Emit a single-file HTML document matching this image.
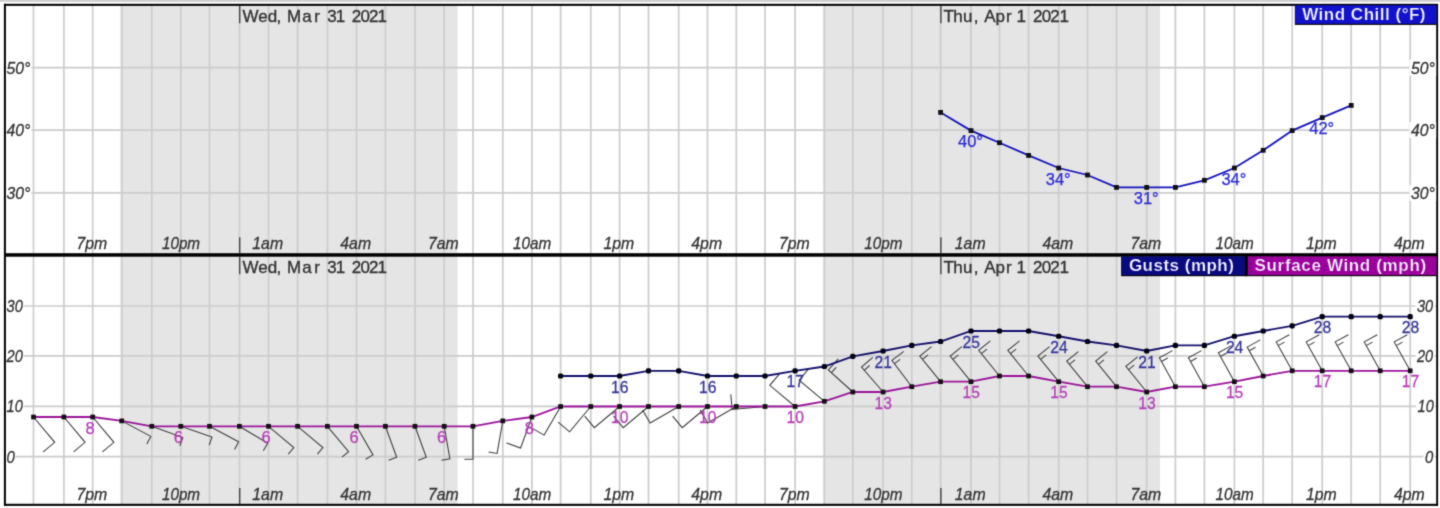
<!DOCTYPE html>
<html><head><meta charset="utf-8"><title>Hourly Weather Graph</title>
<style>html,body{margin:0;padding:0;background:#fff;}body{width:1440px;height:508px;overflow:hidden;font-family:"Liberation Sans",sans-serif;}</style></head>
<body>
<svg width="1440" height="508" viewBox="0 0 1440 508" style="display:block;font-family:'Liberation Sans',sans-serif">
<defs><filter id="bl" x="-10" y="-10" width="1460" height="528" filterUnits="userSpaceOnUse" color-interpolation-filters="sRGB"><feConvolveMatrix order="3" kernelMatrix="0.02250 0.10500 0.02250 0.10500 0.49000 0.10500 0.02250 0.10500 0.02250" divisor="1" edgeMode="duplicate" preserveAlpha="true"/></filter></defs>
<g filter="url(#bl)">
<rect x="-5" y="-5" width="1450" height="518" fill="#ffffff"/>
<rect x="-5" y="-5" width="1450" height="6.8" fill="#cccccc"/>
<rect x="120.6" y="5" width="337.0" height="500" fill="#e5e5e5"/>
<rect x="823.4" y="5" width="336.6" height="500" fill="#e5e5e5"/>
<g stroke="#cccccc" stroke-width="1.7">
<line x1="33.50" y1="5" x2="33.50" y2="505"/>
<line x1="63.90" y1="5" x2="63.90" y2="505"/>
<line x1="92.70" y1="5" x2="92.70" y2="505"/>
<line x1="121.70" y1="5" x2="121.70" y2="505"/>
<line x1="151.80" y1="5" x2="151.80" y2="505"/>
<line x1="180.80" y1="5" x2="180.80" y2="505"/>
<line x1="209.50" y1="5" x2="209.50" y2="505"/>
<line x1="239.40" y1="5" x2="239.40" y2="505"/>
<line x1="268.50" y1="5" x2="268.50" y2="505"/>
<line x1="297.60" y1="5" x2="297.60" y2="505"/>
<line x1="327.40" y1="5" x2="327.40" y2="505"/>
<line x1="356.50" y1="5" x2="356.50" y2="505"/>
<line x1="385.40" y1="5" x2="385.40" y2="505"/>
<line x1="415.00" y1="5" x2="415.00" y2="505"/>
<line x1="444.20" y1="5" x2="444.20" y2="505"/>
<line x1="473.00" y1="5" x2="473.00" y2="505"/>
<line x1="502.80" y1="5" x2="502.80" y2="505"/>
<line x1="531.90" y1="5" x2="531.90" y2="505"/>
<line x1="560.60" y1="5" x2="560.60" y2="505"/>
<line x1="590.80" y1="5" x2="590.80" y2="505"/>
<line x1="619.60" y1="5" x2="619.60" y2="505"/>
<line x1="648.50" y1="5" x2="648.50" y2="505"/>
<line x1="678.70" y1="5" x2="678.70" y2="505"/>
<line x1="707.50" y1="5" x2="707.50" y2="505"/>
<line x1="736.30" y1="5" x2="736.30" y2="505"/>
<line x1="765.00" y1="5" x2="765.00" y2="505"/>
<line x1="795.10" y1="5" x2="795.10" y2="505"/>
<line x1="824.40" y1="5" x2="824.40" y2="505"/>
<line x1="852.80" y1="5" x2="852.80" y2="505"/>
<line x1="883.10" y1="5" x2="883.10" y2="505"/>
<line x1="911.80" y1="5" x2="911.80" y2="505"/>
<line x1="940.60" y1="5" x2="940.60" y2="505"/>
<line x1="971.00" y1="5" x2="971.00" y2="505"/>
<line x1="999.50" y1="5" x2="999.50" y2="505"/>
<line x1="1028.60" y1="5" x2="1028.60" y2="505"/>
<line x1="1058.70" y1="5" x2="1058.70" y2="505"/>
<line x1="1087.50" y1="5" x2="1087.50" y2="505"/>
<line x1="1116.50" y1="5" x2="1116.50" y2="505"/>
<line x1="1146.70" y1="5" x2="1146.70" y2="505"/>
<line x1="1175.40" y1="5" x2="1175.40" y2="505"/>
<line x1="1204.40" y1="5" x2="1204.40" y2="505"/>
<line x1="1234.40" y1="5" x2="1234.40" y2="505"/>
<line x1="1263.20" y1="5" x2="1263.20" y2="505"/>
<line x1="1292.20" y1="5" x2="1292.20" y2="505"/>
<line x1="1322.20" y1="5" x2="1322.20" y2="505"/>
<line x1="1351.20" y1="5" x2="1351.20" y2="505"/>
<line x1="1380.20" y1="5" x2="1380.20" y2="505"/>
<line x1="1410.20" y1="5" x2="1410.20" y2="505"/>
<line x1="5" y1="67.7" x2="1437" y2="67.7"/>
<line x1="5" y1="130.1" x2="1437" y2="130.1"/>
<line x1="5" y1="192.9" x2="1437" y2="192.9"/>
<line x1="5" y1="306.0" x2="1437" y2="306.0"/>
<line x1="5" y1="355.8" x2="1437" y2="355.8"/>
<line x1="5" y1="406.3" x2="1437" y2="406.3"/>
<line x1="5" y1="456.7" x2="1437" y2="456.7"/>
</g>
<g fill="#000000">
<rect x="4" y="3.8" width="1434" height="2.05"/>
<rect x="4" y="503.8" width="1434" height="2.05"/>
<rect x="3.9" y="3.8" width="2.0" height="502"/>
<rect x="1436.2" y="4" width="1.9" height="502"/>
<rect x="4" y="253.2" width="1434" height="3.5"/>
</g>
<g stroke="#444444" stroke-width="1.4">
<line x1="239.70" y1="6" x2="239.70" y2="23.3"/>
<line x1="239.70" y1="237.3" x2="239.70" y2="253.2"/>
<line x1="239.70" y1="256.7" x2="239.70" y2="274.3"/>
<line x1="239.70" y1="488" x2="239.70" y2="504"/>
<line x1="940.90" y1="6" x2="940.90" y2="23.3"/>
<line x1="940.90" y1="237.3" x2="940.90" y2="253.2"/>
<line x1="940.90" y1="256.7" x2="940.90" y2="274.3"/>
<line x1="940.90" y1="488" x2="940.90" y2="504"/>
</g>
<text x="242.6 258.2 267.7 276.5 287.1 302.2 314.3 327.3 335.8 351.7 360.5 369.1 377.5" y="21.9" font-size="17" fill="#333333" stroke="#333333" stroke-width="0.35">Wed,Mar312021</text>
<text x="242.6 258.2 267.7 276.5 287.1 302.2 314.3 327.3 335.8 351.7 360.5 369.1 377.5" y="273.3" font-size="17" fill="#333333" stroke="#333333" stroke-width="0.35">Wed,Mar312021</text>
<text x="943.5 953.2 963.0 973.7 984.2 995.6 1006.0 1016.4 1033.0 1041.8 1050.3 1059.5" y="21.9" font-size="17" fill="#333333" stroke="#333333" stroke-width="0.35">Thu,Apr12021</text>
<text x="943.5 953.2 963.0 973.7 984.2 995.6 1006.0 1016.4 1033.0 1041.8 1050.3 1059.5" y="273.3" font-size="17" fill="#333333" stroke="#333333" stroke-width="0.35">Thu,Apr12021</text>
<text x="76.50" y="249.3" font-size="17" font-style="italic" fill="#333333" stroke="#333333" stroke-width="0.3" textLength="30.8" lengthAdjust="spacingAndGlyphs">7pm</text>
<text x="76.50" y="500.3" font-size="17" font-style="italic" fill="#333333" stroke="#333333" stroke-width="0.3" textLength="30.8" lengthAdjust="spacingAndGlyphs">7pm</text>
<text x="161.90" y="249.3" font-size="17" font-style="italic" fill="#333333" stroke="#333333" stroke-width="0.3" textLength="38.2" lengthAdjust="spacingAndGlyphs">10pm</text>
<text x="161.90" y="500.3" font-size="17" font-style="italic" fill="#333333" stroke="#333333" stroke-width="0.3" textLength="38.2" lengthAdjust="spacingAndGlyphs">10pm</text>
<text x="252.30" y="249.3" font-size="17" font-style="italic" fill="#333333" stroke="#333333" stroke-width="0.3" textLength="30.8" lengthAdjust="spacingAndGlyphs">1am</text>
<text x="252.30" y="500.3" font-size="17" font-style="italic" fill="#333333" stroke="#333333" stroke-width="0.3" textLength="30.8" lengthAdjust="spacingAndGlyphs">1am</text>
<text x="340.30" y="249.3" font-size="17" font-style="italic" fill="#333333" stroke="#333333" stroke-width="0.3" textLength="30.8" lengthAdjust="spacingAndGlyphs">4am</text>
<text x="340.30" y="500.3" font-size="17" font-style="italic" fill="#333333" stroke="#333333" stroke-width="0.3" textLength="30.8" lengthAdjust="spacingAndGlyphs">4am</text>
<text x="428.00" y="249.3" font-size="17" font-style="italic" fill="#333333" stroke="#333333" stroke-width="0.3" textLength="30.8" lengthAdjust="spacingAndGlyphs">7am</text>
<text x="428.00" y="500.3" font-size="17" font-style="italic" fill="#333333" stroke="#333333" stroke-width="0.3" textLength="30.8" lengthAdjust="spacingAndGlyphs">7am</text>
<text x="513.00" y="249.3" font-size="17" font-style="italic" fill="#333333" stroke="#333333" stroke-width="0.3" textLength="38.2" lengthAdjust="spacingAndGlyphs">10am</text>
<text x="513.00" y="500.3" font-size="17" font-style="italic" fill="#333333" stroke="#333333" stroke-width="0.3" textLength="38.2" lengthAdjust="spacingAndGlyphs">10am</text>
<text x="603.40" y="249.3" font-size="17" font-style="italic" fill="#333333" stroke="#333333" stroke-width="0.3" textLength="30.8" lengthAdjust="spacingAndGlyphs">1pm</text>
<text x="603.40" y="500.3" font-size="17" font-style="italic" fill="#333333" stroke="#333333" stroke-width="0.3" textLength="30.8" lengthAdjust="spacingAndGlyphs">1pm</text>
<text x="691.30" y="249.3" font-size="17" font-style="italic" fill="#333333" stroke="#333333" stroke-width="0.3" textLength="30.8" lengthAdjust="spacingAndGlyphs">4pm</text>
<text x="691.30" y="500.3" font-size="17" font-style="italic" fill="#333333" stroke="#333333" stroke-width="0.3" textLength="30.8" lengthAdjust="spacingAndGlyphs">4pm</text>
<text x="778.90" y="249.3" font-size="17" font-style="italic" fill="#333333" stroke="#333333" stroke-width="0.3" textLength="30.8" lengthAdjust="spacingAndGlyphs">7pm</text>
<text x="778.90" y="500.3" font-size="17" font-style="italic" fill="#333333" stroke="#333333" stroke-width="0.3" textLength="30.8" lengthAdjust="spacingAndGlyphs">7pm</text>
<text x="864.20" y="249.3" font-size="17" font-style="italic" fill="#333333" stroke="#333333" stroke-width="0.3" textLength="38.2" lengthAdjust="spacingAndGlyphs">10pm</text>
<text x="864.20" y="500.3" font-size="17" font-style="italic" fill="#333333" stroke="#333333" stroke-width="0.3" textLength="38.2" lengthAdjust="spacingAndGlyphs">10pm</text>
<text x="954.80" y="249.3" font-size="17" font-style="italic" fill="#333333" stroke="#333333" stroke-width="0.3" textLength="30.8" lengthAdjust="spacingAndGlyphs">1am</text>
<text x="954.80" y="500.3" font-size="17" font-style="italic" fill="#333333" stroke="#333333" stroke-width="0.3" textLength="30.8" lengthAdjust="spacingAndGlyphs">1am</text>
<text x="1042.50" y="249.3" font-size="17" font-style="italic" fill="#333333" stroke="#333333" stroke-width="0.3" textLength="30.8" lengthAdjust="spacingAndGlyphs">4am</text>
<text x="1042.50" y="500.3" font-size="17" font-style="italic" fill="#333333" stroke="#333333" stroke-width="0.3" textLength="30.8" lengthAdjust="spacingAndGlyphs">4am</text>
<text x="1130.50" y="249.3" font-size="17" font-style="italic" fill="#333333" stroke="#333333" stroke-width="0.3" textLength="30.8" lengthAdjust="spacingAndGlyphs">7am</text>
<text x="1130.50" y="500.3" font-size="17" font-style="italic" fill="#333333" stroke="#333333" stroke-width="0.3" textLength="30.8" lengthAdjust="spacingAndGlyphs">7am</text>
<text x="1215.50" y="249.3" font-size="17" font-style="italic" fill="#333333" stroke="#333333" stroke-width="0.3" textLength="38.2" lengthAdjust="spacingAndGlyphs">10am</text>
<text x="1215.50" y="500.3" font-size="17" font-style="italic" fill="#333333" stroke="#333333" stroke-width="0.3" textLength="38.2" lengthAdjust="spacingAndGlyphs">10am</text>
<text x="1306.00" y="249.3" font-size="17" font-style="italic" fill="#333333" stroke="#333333" stroke-width="0.3" textLength="30.8" lengthAdjust="spacingAndGlyphs">1pm</text>
<text x="1306.00" y="500.3" font-size="17" font-style="italic" fill="#333333" stroke="#333333" stroke-width="0.3" textLength="30.8" lengthAdjust="spacingAndGlyphs">1pm</text>
<text x="1394.00" y="249.3" font-size="17" font-style="italic" fill="#333333" stroke="#333333" stroke-width="0.3" textLength="30.8" lengthAdjust="spacingAndGlyphs">4pm</text>
<text x="1394.00" y="500.3" font-size="17" font-style="italic" fill="#333333" stroke="#333333" stroke-width="0.3" textLength="30.8" lengthAdjust="spacingAndGlyphs">4pm</text>
<rect x="6" y="59.7" width="25.3" height="16" fill="#ffffff"/>
<text x="6.6" y="73.5" font-size="17" font-style="italic" fill="#333333" stroke="#333333" stroke-width="0.3" textLength="23.8" lengthAdjust="spacingAndGlyphs">50°</text>
<rect x="1409.5" y="59.7" width="26.7" height="16" fill="#ffffff"/>
<text x="1411.0" y="73.5" font-size="17" font-style="italic" fill="#333333" stroke="#333333" stroke-width="0.3" textLength="23.8" lengthAdjust="spacingAndGlyphs">50°</text>
<rect x="6" y="122.1" width="25.3" height="16" fill="#ffffff"/>
<text x="6.6" y="135.9" font-size="17" font-style="italic" fill="#333333" stroke="#333333" stroke-width="0.3" textLength="23.8" lengthAdjust="spacingAndGlyphs">40°</text>
<rect x="1409.5" y="122.1" width="26.7" height="16" fill="#ffffff"/>
<text x="1411.0" y="135.9" font-size="17" font-style="italic" fill="#333333" stroke="#333333" stroke-width="0.3" textLength="23.8" lengthAdjust="spacingAndGlyphs">40°</text>
<rect x="6" y="184.9" width="25.3" height="16" fill="#ffffff"/>
<text x="6.6" y="198.7" font-size="17" font-style="italic" fill="#333333" stroke="#333333" stroke-width="0.3" textLength="23.8" lengthAdjust="spacingAndGlyphs">30°</text>
<rect x="1409.5" y="184.9" width="26.7" height="16" fill="#ffffff"/>
<text x="1411.0" y="198.7" font-size="17" font-style="italic" fill="#333333" stroke="#333333" stroke-width="0.3" textLength="23.8" lengthAdjust="spacingAndGlyphs">30°</text>
<rect x="6" y="298.0" width="17.7" height="16" fill="#ffffff"/>
<text x="6.6" y="311.8" font-size="17" font-style="italic" fill="#333333" stroke="#333333" stroke-width="0.3" textLength="16.2" lengthAdjust="spacingAndGlyphs">30</text>
<rect x="1415.5" y="298.0" width="19.099999999999998" height="16" fill="#ffffff"/>
<text x="1417.0" y="311.8" font-size="17" font-style="italic" fill="#333333" stroke="#333333" stroke-width="0.3" textLength="16.2" lengthAdjust="spacingAndGlyphs">30</text>
<rect x="6" y="347.8" width="17.7" height="16" fill="#ffffff"/>
<text x="6.6" y="361.6" font-size="17" font-style="italic" fill="#333333" stroke="#333333" stroke-width="0.3" textLength="16.2" lengthAdjust="spacingAndGlyphs">20</text>
<rect x="1415.5" y="347.8" width="19.099999999999998" height="16" fill="#ffffff"/>
<text x="1417.0" y="361.6" font-size="17" font-style="italic" fill="#333333" stroke="#333333" stroke-width="0.3" textLength="16.2" lengthAdjust="spacingAndGlyphs">20</text>
<rect x="6" y="398.3" width="17.7" height="16" fill="#ffffff"/>
<text x="6.6" y="412.1" font-size="17" font-style="italic" fill="#333333" stroke="#333333" stroke-width="0.3" textLength="16.2" lengthAdjust="spacingAndGlyphs">10</text>
<rect x="1416.1" y="398.3" width="19.099999999999998" height="16" fill="#ffffff"/>
<text x="1417.6" y="412.1" font-size="17" font-style="italic" fill="#333333" stroke="#333333" stroke-width="0.3" textLength="16.2" lengthAdjust="spacingAndGlyphs">10</text>
<rect x="6" y="448.7" width="9.8" height="16" fill="#ffffff"/>
<text x="6.6" y="462.5" font-size="17" font-style="italic" fill="#333333" stroke="#333333" stroke-width="0.3" textLength="8.3" lengthAdjust="spacingAndGlyphs">0</text>
<rect x="1423.4" y="448.7" width="11.200000000000001" height="16" fill="#ffffff"/>
<text x="1424.9" y="462.5" font-size="17" font-style="italic" fill="#333333" stroke="#333333" stroke-width="0.3" textLength="8.3" lengthAdjust="spacingAndGlyphs">0</text>
<g stroke="#3c3c3c" stroke-width="1.05" fill="none" stroke-linecap="butt">
<path d="M33.5 417.0L54.7 442.3L43.2 451.9"/>
<path d="M63.9 417.0L85.1 442.3L73.6 451.9"/>
<path d="M92.7 417.0L113.9 442.3L102.4 451.9"/>
<path d="M121.7 420.9L150.8 436.4L146.8 444.0"/>
<path d="M151.8 426.3L182.8 437.6L179.9 445.7"/>
<path d="M180.8 426.3L212.0 437.0L209.2 445.2"/>
<path d="M209.5 426.3L238.6 441.8L234.6 449.4"/>
<path d="M239.4 426.3L267.7 443.3L263.3 450.7"/>
<path d="M268.5 426.3L293.8 447.5L288.3 454.1"/>
<path d="M297.6 426.3L322.9 447.5L317.4 454.1"/>
<path d="M327.4 426.3L348.6 451.6L342.0 457.1"/>
<path d="M356.5 426.3L373.0 454.9L365.6 459.2"/>
<path d="M385.4 426.3L396.7 457.3L388.6 460.3"/>
<path d="M415.0 426.3L426.3 457.3L418.2 460.3"/>
<path d="M444.2 426.3L449.9 458.8L441.5 460.3"/>
<path d="M473.0 426.3L473.0 459.3L464.4 459.3"/>
<path d="M502.8 420.9L497.1 453.4L488.6 451.9"/>
<path d="M531.9 417.0L520.6 448.0L506.5 442.9"/>
<path d="M560.6 406.5L544.1 435.1L531.1 427.6"/>
<path d="M590.8 406.5L569.6 431.8L558.1 422.1"/>
<path d="M619.6 406.5L594.3 427.7L584.7 416.2"/>
<path d="M648.5 406.5L623.2 427.7L613.6 416.2"/>
<path d="M678.7 406.5L650.1 423.0L642.6 410.0"/>
<path d="M707.5 406.5L682.2 427.7L672.6 416.2"/>
<path d="M736.3 406.5L707.7 423.0L700.2 410.0"/>
<path d="M765.0 406.5L732.1 409.4L730.8 394.4"/>
<path d="M795.1 406.5L769.8 385.3L779.5 373.8"/>
<path d="M824.4 401.3L799.1 380.1L808.8 368.6"/>
<path d="M852.8 392.0L828.3 369.9L838.3 358.8M831.4 372.7L836.2 367.4"/>
<path d="M883.1 392.0L861.5 367.1L872.8 357.3M864.2 370.3L869.6 365.5"/>
<path d="M911.8 386.7L891.9 360.3L903.9 351.3M894.5 363.7L900.2 359.4"/>
<path d="M940.6 381.7L919.8 356.1L931.5 346.6M922.5 359.3L928.1 354.8"/>
<path d="M971.0 381.7L950.2 356.1L961.9 346.6M952.9 359.3L958.5 354.8"/>
<path d="M999.5 376.0L978.7 350.4L990.4 340.9M981.4 353.6L987.0 349.1"/>
<path d="M1028.6 376.0L1007.8 350.4L1019.5 340.9M1010.5 353.6L1016.1 349.1"/>
<path d="M1058.7 381.7L1037.9 356.1L1049.6 346.6M1040.6 359.3L1046.2 354.8"/>
<path d="M1087.5 386.7L1066.7 361.1L1078.4 351.6M1069.4 364.3L1075.0 359.8"/>
<path d="M1116.5 386.7L1095.7 361.1L1107.4 351.6M1098.4 364.3L1104.0 359.8"/>
<path d="M1146.7 392.0L1125.9 366.4L1137.6 356.9M1128.6 369.6L1134.2 365.1"/>
<path d="M1175.4 386.7L1159.4 357.8L1172.5 350.6M1161.4 361.5L1167.7 358.0"/>
<path d="M1204.4 386.7L1188.4 357.8L1201.5 350.6M1190.4 361.5L1196.7 358.0"/>
<path d="M1234.4 381.7L1218.4 352.8L1231.5 345.6M1220.4 356.5L1226.7 353.0"/>
<path d="M1263.2 376.0L1247.2 347.1L1260.3 339.9M1249.2 350.8L1255.5 347.3"/>
<path d="M1292.2 370.8L1276.2 341.9L1289.3 334.7M1278.2 345.6L1284.5 342.1"/>
<path d="M1322.2 370.8L1306.2 341.9L1319.3 334.7M1308.2 345.6L1314.5 342.1"/>
<path d="M1351.2 370.8L1335.2 341.9L1348.3 334.7M1337.2 345.6L1343.5 342.1"/>
<path d="M1380.2 370.8L1364.2 341.9L1377.3 334.7M1366.2 345.6L1372.5 342.1"/>
<path d="M1410.2 370.8L1394.2 341.9L1407.3 334.7M1396.2 345.6L1402.5 342.1"/>
</g>
<polyline points="33.50,417.00 63.90,417.00 92.70,417.00 121.70,420.90 151.80,426.30 180.80,426.30 209.50,426.30 239.40,426.30 268.50,426.30 297.60,426.30 327.40,426.30 356.50,426.30 385.40,426.30 415.00,426.30 444.20,426.30 473.00,426.30 502.80,420.90 531.90,417.00 560.60,406.50 590.80,406.50 619.60,406.50 648.50,406.50 678.70,406.50 707.50,406.50 736.30,406.50 765.00,406.50 795.10,406.50 824.40,401.30 852.80,392.00 883.10,392.00 911.80,386.70 940.60,381.70 971.00,381.70 999.50,376.00 1028.60,376.00 1058.70,381.70 1087.50,386.70 1116.50,386.70 1146.70,392.00 1175.40,386.70 1204.40,386.70 1234.40,381.70 1263.20,376.00 1292.20,370.80 1322.20,370.80 1351.20,370.80 1380.20,370.80 1410.20,370.80" fill="none" stroke="#9a149a" stroke-width="1.8"/>
<rect x="31.15" y="414.65" width="4.7" height="4.7" fill="#101010"/>
<rect x="61.55" y="414.65" width="4.7" height="4.7" fill="#101010"/>
<rect x="90.35" y="414.65" width="4.7" height="4.7" fill="#101010"/>
<rect x="119.35" y="418.55" width="4.7" height="4.7" fill="#101010"/>
<rect x="149.45" y="423.95" width="4.7" height="4.7" fill="#101010"/>
<rect x="178.45" y="423.95" width="4.7" height="4.7" fill="#101010"/>
<rect x="207.15" y="423.95" width="4.7" height="4.7" fill="#101010"/>
<rect x="237.05" y="423.95" width="4.7" height="4.7" fill="#101010"/>
<rect x="266.15" y="423.95" width="4.7" height="4.7" fill="#101010"/>
<rect x="295.25" y="423.95" width="4.7" height="4.7" fill="#101010"/>
<rect x="325.05" y="423.95" width="4.7" height="4.7" fill="#101010"/>
<rect x="354.15" y="423.95" width="4.7" height="4.7" fill="#101010"/>
<rect x="383.05" y="423.95" width="4.7" height="4.7" fill="#101010"/>
<rect x="412.65" y="423.95" width="4.7" height="4.7" fill="#101010"/>
<rect x="441.85" y="423.95" width="4.7" height="4.7" fill="#101010"/>
<rect x="470.65" y="423.95" width="4.7" height="4.7" fill="#101010"/>
<rect x="500.45" y="418.55" width="4.7" height="4.7" fill="#101010"/>
<rect x="529.55" y="414.65" width="4.7" height="4.7" fill="#101010"/>
<rect x="558.25" y="404.15" width="4.7" height="4.7" fill="#101010"/>
<rect x="588.45" y="404.15" width="4.7" height="4.7" fill="#101010"/>
<rect x="617.25" y="404.15" width="4.7" height="4.7" fill="#101010"/>
<rect x="646.15" y="404.15" width="4.7" height="4.7" fill="#101010"/>
<rect x="676.35" y="404.15" width="4.7" height="4.7" fill="#101010"/>
<rect x="705.15" y="404.15" width="4.7" height="4.7" fill="#101010"/>
<rect x="733.95" y="404.15" width="4.7" height="4.7" fill="#101010"/>
<rect x="762.65" y="404.15" width="4.7" height="4.7" fill="#101010"/>
<rect x="792.75" y="404.15" width="4.7" height="4.7" fill="#101010"/>
<rect x="822.05" y="398.95" width="4.7" height="4.7" fill="#101010"/>
<rect x="850.45" y="389.65" width="4.7" height="4.7" fill="#101010"/>
<rect x="880.75" y="389.65" width="4.7" height="4.7" fill="#101010"/>
<rect x="909.45" y="384.35" width="4.7" height="4.7" fill="#101010"/>
<rect x="938.25" y="379.35" width="4.7" height="4.7" fill="#101010"/>
<rect x="968.65" y="379.35" width="4.7" height="4.7" fill="#101010"/>
<rect x="997.15" y="373.65" width="4.7" height="4.7" fill="#101010"/>
<rect x="1026.25" y="373.65" width="4.7" height="4.7" fill="#101010"/>
<rect x="1056.35" y="379.35" width="4.7" height="4.7" fill="#101010"/>
<rect x="1085.15" y="384.35" width="4.7" height="4.7" fill="#101010"/>
<rect x="1114.15" y="384.35" width="4.7" height="4.7" fill="#101010"/>
<rect x="1144.35" y="389.65" width="4.7" height="4.7" fill="#101010"/>
<rect x="1173.05" y="384.35" width="4.7" height="4.7" fill="#101010"/>
<rect x="1202.05" y="384.35" width="4.7" height="4.7" fill="#101010"/>
<rect x="1232.05" y="379.35" width="4.7" height="4.7" fill="#101010"/>
<rect x="1260.85" y="373.65" width="4.7" height="4.7" fill="#101010"/>
<rect x="1289.85" y="368.45" width="4.7" height="4.7" fill="#101010"/>
<rect x="1319.85" y="368.45" width="4.7" height="4.7" fill="#101010"/>
<rect x="1348.85" y="368.45" width="4.7" height="4.7" fill="#101010"/>
<rect x="1377.85" y="368.45" width="4.7" height="4.7" fill="#101010"/>
<rect x="1407.85" y="368.45" width="4.7" height="4.7" fill="#101010"/>
<text x="85.60" y="433.5" font-size="16.5" fill="#b63cb6" stroke="#b63cb6" stroke-width="0.25">8</text>
<text x="173.70" y="442.8" font-size="16.5" fill="#b63cb6" stroke="#b63cb6" stroke-width="0.25">6</text>
<text x="261.40" y="442.8" font-size="16.5" fill="#b63cb6" stroke="#b63cb6" stroke-width="0.25">6</text>
<text x="349.40" y="442.8" font-size="16.5" fill="#b63cb6" stroke="#b63cb6" stroke-width="0.25">6</text>
<text x="437.10" y="442.8" font-size="16.5" fill="#b63cb6" stroke="#b63cb6" stroke-width="0.25">6</text>
<text x="524.80" y="433.5" font-size="16.5" fill="#b63cb6" stroke="#b63cb6" stroke-width="0.25">8</text>
<text transform="translate(611.10,423.0) scale(0.95,1)" font-size="16.5" fill="#b63cb6" stroke="#b63cb6" stroke-width="0.25">10</text>
<text transform="translate(699.00,423.0) scale(0.95,1)" font-size="16.5" fill="#b63cb6" stroke="#b63cb6" stroke-width="0.25">10</text>
<text transform="translate(786.60,423.0) scale(0.95,1)" font-size="16.5" fill="#b63cb6" stroke="#b63cb6" stroke-width="0.25">10</text>
<text transform="translate(874.60,408.5) scale(0.95,1)" font-size="16.5" fill="#b63cb6" stroke="#b63cb6" stroke-width="0.25">13</text>
<text transform="translate(962.50,398.2) scale(0.95,1)" font-size="16.5" fill="#b63cb6" stroke="#b63cb6" stroke-width="0.25">15</text>
<text transform="translate(1050.20,398.2) scale(0.95,1)" font-size="16.5" fill="#b63cb6" stroke="#b63cb6" stroke-width="0.25">15</text>
<text transform="translate(1138.20,408.5) scale(0.95,1)" font-size="16.5" fill="#b63cb6" stroke="#b63cb6" stroke-width="0.25">13</text>
<text transform="translate(1225.90,398.2) scale(0.95,1)" font-size="16.5" fill="#b63cb6" stroke="#b63cb6" stroke-width="0.25">15</text>
<text transform="translate(1313.70,387.3) scale(0.95,1)" font-size="16.5" fill="#b63cb6" stroke="#b63cb6" stroke-width="0.25">17</text>
<text transform="translate(1401.70,387.3) scale(0.95,1)" font-size="16.5" fill="#b63cb6" stroke="#b63cb6" stroke-width="0.25">17</text>
<polyline points="560.60,376.00 590.80,376.00 619.60,376.00 648.50,370.80 678.70,370.80 707.50,376.00 736.30,376.00 765.00,376.00 795.10,370.80 824.40,366.50 852.80,356.30 883.10,351.00 911.80,345.40 940.60,341.50 971.00,331.00 999.50,331.00 1028.60,331.00 1058.70,336.25 1087.50,341.50 1116.50,345.40 1146.70,351.00 1175.40,345.40 1204.40,345.40 1234.40,336.25 1263.20,331.00 1292.20,325.80 1322.20,316.70 1351.20,316.70 1380.20,316.70 1410.20,316.70" fill="none" stroke="#14106c" stroke-width="1.8"/>
<rect x="558.00" y="373.40" width="5.2" height="5.2" rx="1.6" fill="#000010"/>
<rect x="588.20" y="373.40" width="5.2" height="5.2" rx="1.6" fill="#000010"/>
<rect x="617.00" y="373.40" width="5.2" height="5.2" rx="1.6" fill="#000010"/>
<rect x="645.90" y="368.20" width="5.2" height="5.2" rx="1.6" fill="#000010"/>
<rect x="676.10" y="368.20" width="5.2" height="5.2" rx="1.6" fill="#000010"/>
<rect x="704.90" y="373.40" width="5.2" height="5.2" rx="1.6" fill="#000010"/>
<rect x="733.70" y="373.40" width="5.2" height="5.2" rx="1.6" fill="#000010"/>
<rect x="762.40" y="373.40" width="5.2" height="5.2" rx="1.6" fill="#000010"/>
<rect x="792.50" y="368.20" width="5.2" height="5.2" rx="1.6" fill="#000010"/>
<rect x="821.80" y="363.90" width="5.2" height="5.2" rx="1.6" fill="#000010"/>
<rect x="850.20" y="353.70" width="5.2" height="5.2" rx="1.6" fill="#000010"/>
<rect x="880.50" y="348.40" width="5.2" height="5.2" rx="1.6" fill="#000010"/>
<rect x="909.20" y="342.80" width="5.2" height="5.2" rx="1.6" fill="#000010"/>
<rect x="938.00" y="338.90" width="5.2" height="5.2" rx="1.6" fill="#000010"/>
<rect x="968.40" y="328.40" width="5.2" height="5.2" rx="1.6" fill="#000010"/>
<rect x="996.90" y="328.40" width="5.2" height="5.2" rx="1.6" fill="#000010"/>
<rect x="1026.00" y="328.40" width="5.2" height="5.2" rx="1.6" fill="#000010"/>
<rect x="1056.10" y="333.65" width="5.2" height="5.2" rx="1.6" fill="#000010"/>
<rect x="1084.90" y="338.90" width="5.2" height="5.2" rx="1.6" fill="#000010"/>
<rect x="1113.90" y="342.80" width="5.2" height="5.2" rx="1.6" fill="#000010"/>
<rect x="1144.10" y="348.40" width="5.2" height="5.2" rx="1.6" fill="#000010"/>
<rect x="1172.80" y="342.80" width="5.2" height="5.2" rx="1.6" fill="#000010"/>
<rect x="1201.80" y="342.80" width="5.2" height="5.2" rx="1.6" fill="#000010"/>
<rect x="1231.80" y="333.65" width="5.2" height="5.2" rx="1.6" fill="#000010"/>
<rect x="1260.60" y="328.40" width="5.2" height="5.2" rx="1.6" fill="#000010"/>
<rect x="1289.60" y="323.20" width="5.2" height="5.2" rx="1.6" fill="#000010"/>
<rect x="1319.60" y="314.10" width="5.2" height="5.2" rx="1.6" fill="#000010"/>
<rect x="1348.60" y="314.10" width="5.2" height="5.2" rx="1.6" fill="#000010"/>
<rect x="1377.60" y="314.10" width="5.2" height="5.2" rx="1.6" fill="#000010"/>
<rect x="1407.60" y="314.10" width="5.2" height="5.2" rx="1.6" fill="#000010"/>
<text transform="translate(611.10,392.5) scale(0.95,1)" font-size="16.5" fill="#33339a" stroke="#33339a" stroke-width="0.25">16</text>
<text transform="translate(699.00,392.5) scale(0.95,1)" font-size="16.5" fill="#33339a" stroke="#33339a" stroke-width="0.25">16</text>
<text transform="translate(786.60,387.3) scale(0.95,1)" font-size="16.5" fill="#33339a" stroke="#33339a" stroke-width="0.25">17</text>
<text transform="translate(874.60,367.5) scale(0.95,1)" font-size="16.5" fill="#33339a" stroke="#33339a" stroke-width="0.25">21</text>
<text transform="translate(962.50,347.5) scale(0.95,1)" font-size="16.5" fill="#33339a" stroke="#33339a" stroke-width="0.25">25</text>
<text transform="translate(1050.20,352.8) scale(0.95,1)" font-size="16.5" fill="#33339a" stroke="#33339a" stroke-width="0.25">24</text>
<text transform="translate(1138.20,367.5) scale(0.95,1)" font-size="16.5" fill="#33339a" stroke="#33339a" stroke-width="0.25">21</text>
<text transform="translate(1225.90,352.8) scale(0.95,1)" font-size="16.5" fill="#33339a" stroke="#33339a" stroke-width="0.25">24</text>
<text transform="translate(1313.70,333.2) scale(0.95,1)" font-size="16.5" fill="#33339a" stroke="#33339a" stroke-width="0.25">28</text>
<text transform="translate(1401.70,333.2) scale(0.95,1)" font-size="16.5" fill="#33339a" stroke="#33339a" stroke-width="0.25">28</text>
<polyline points="940.60,112.40 971.00,130.60 999.50,142.70 1028.60,155.40 1058.70,168.00 1087.50,175.00 1116.50,187.40 1146.70,187.40 1175.40,187.40 1204.40,180.30 1234.40,168.00 1263.20,150.30 1292.20,130.60 1322.20,117.60 1351.20,105.40" fill="none" stroke="#1212c0" stroke-width="1.75"/>
<rect x="938.20" y="110.00" width="4.8" height="4.8" fill="#101010"/>
<rect x="968.60" y="128.20" width="4.8" height="4.8" fill="#101010"/>
<rect x="997.10" y="140.30" width="4.8" height="4.8" fill="#101010"/>
<rect x="1026.20" y="153.00" width="4.8" height="4.8" fill="#101010"/>
<rect x="1056.30" y="165.60" width="4.8" height="4.8" fill="#101010"/>
<rect x="1085.10" y="172.60" width="4.8" height="4.8" fill="#101010"/>
<rect x="1114.10" y="185.00" width="4.8" height="4.8" fill="#101010"/>
<rect x="1144.30" y="185.00" width="4.8" height="4.8" fill="#101010"/>
<rect x="1173.00" y="185.00" width="4.8" height="4.8" fill="#101010"/>
<rect x="1202.00" y="177.90" width="4.8" height="4.8" fill="#101010"/>
<rect x="1232.00" y="165.60" width="4.8" height="4.8" fill="#101010"/>
<rect x="1260.80" y="147.90" width="4.8" height="4.8" fill="#101010"/>
<rect x="1289.80" y="128.20" width="4.8" height="4.8" fill="#101010"/>
<rect x="1319.80" y="115.20" width="4.8" height="4.8" fill="#101010"/>
<rect x="1348.80" y="103.00" width="4.8" height="4.8" fill="#101010"/>
<text x="970.50" y="147.2" font-size="16.5" text-anchor="middle" fill="#2a2ad8" stroke="#2a2ad8" stroke-width="0.25">40°</text>
<text x="1058.20" y="184.6" font-size="16.5" text-anchor="middle" fill="#2a2ad8" stroke="#2a2ad8" stroke-width="0.25">34°</text>
<text x="1146.20" y="204.0" font-size="16.5" text-anchor="middle" fill="#2a2ad8" stroke="#2a2ad8" stroke-width="0.25">31°</text>
<text x="1233.90" y="184.6" font-size="16.5" text-anchor="middle" fill="#2a2ad8" stroke="#2a2ad8" stroke-width="0.25">34°</text>
<text x="1321.70" y="134.2" font-size="16.5" text-anchor="middle" fill="#2a2ad8" stroke="#2a2ad8" stroke-width="0.25">42°</text>
<rect x="1294.8" y="5.2" width="141.60000000000014" height="19.7" fill="#000000"/>
<rect x="1295.1" y="5.2" width="141.30000000000013" height="18.599999999999998" fill="#1212cc"/>
<text x="1302.2" y="20.1" font-size="17" font-weight="bold" fill="#f4f4ff" stroke="#1212cc" stroke-width="0.22" textLength="123.3" lengthAdjust="spacing">Wind Chill (°F)</text>
<rect x="1121.2" y="256.4" width="126.39999999999986" height="19.80000000000001" fill="#000000"/>
<rect x="1121.5" y="256.4" width="126.09999999999987" height="18.70000000000001" fill="#0a0a80"/>
<text x="1128.9" y="271.3" font-size="17" font-weight="bold" fill="#f4f4ff" stroke="#0a0a80" stroke-width="0.22" textLength="105" lengthAdjust="spacing">Gusts (mph)</text>
<rect x="1244.8" y="256" width="2.8" height="20.2" fill="#000"/>
<rect x="1247.6" y="256.4" width="188.80000000000018" height="19.80000000000001" fill="#000000"/>
<rect x="1247.8999999999999" y="256.4" width="188.50000000000017" height="18.70000000000001" fill="#9c009c"/>
<text x="1254.6" y="271.3" font-size="17" font-weight="bold" fill="#f4f4ff" stroke="#9c009c" stroke-width="0.22" textLength="171.5" lengthAdjust="spacing">Surface Wind (mph)</text>
</g>
</svg>
</body></html>
